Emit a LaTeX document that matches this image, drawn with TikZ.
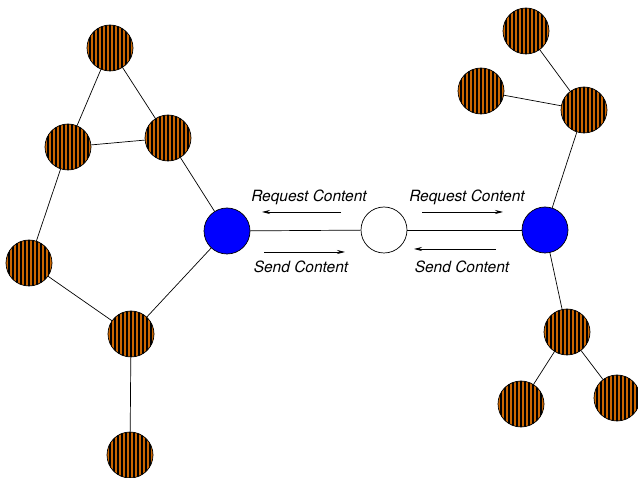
\documentclass[tikz,border=0pt]{standalone}
\usepackage{fontspec}
\setmainfont{TeX Gyre Heros}
\usetikzlibrary{arrows.meta}
\definecolor{peer}{RGB}{204,102,0}
\definecolor{super}{RGB}{0,0,255}
\tikzset{
  node base/.style={circle, draw=black, line width=0.7pt, minimum size=46pt, inner sep=0pt},
  striped/.style={node base, fill=peer,
    path picture={
      \foreach \k in {-6,...,6}{
        \draw[black, line width=1.5pt]
          ([xshift=\k*4pt]path picture bounding box.north) --
          ([xshift=\k*4pt]path picture bounding box.south);
      }
    }},
  hub/.style={node base, fill=super},
  relay/.style={node base, fill=white},
  link/.style={draw=black, line width=0.7pt},
  flow/.style={draw=black, line width=0.7pt, -{Stealth[length=8pt,width=4pt]}},
  caption/.style={font=\fontsize{15.5pt}{18pt}\selectfont\itshape, inner sep=0pt}
}
\begin{document}
\begin{tikzpicture}[x=1pt, y=-1pt]
  \useasboundingbox (0,0) rectangle (638,478);

  % left cluster
  \node[striped] (lt)  at (110,48)  {};
  \node[striped] (ll1) at (68,147)  {};
  \node[striped] (lr1) at (168,138) {};
  \node[striped] (ll2) at (29,263)  {};
  \node[striped] (lm)  at (131,334) {};
  \node[striped] (lb)  at (130,455) {};
  \node[hub]     (hl)  at (227,231) {};

  % relay in the middle
  \node[relay]   (mid) at (384,230) {};

  % right cluster
  \node[hub]     (hr)  at (545,230) {};
  \node[striped] (rt)  at (526,31)  {};
  \node[striped] (rl)  at (481,91)  {};
  \node[striped] (rm)  at (584,110) {};
  \node[striped] (rd)  at (567,332) {};
  \node[striped] (rbl) at (521,404) {};
  \node[striped] (rbr) at (617,398) {};

  % links
  \draw[link] (lt) -- (ll1);
  \draw[link] (lt) -- (lr1);
  \draw[link] (ll1) -- (lr1);
  \draw[link] (lr1) -- (hl);
  \draw[link] (ll1) -- (ll2);
  \draw[link] (ll2) -- (lm);
  \draw[link] (lm) -- (hl);
  \draw[link] (lm) -- (lb);
  \draw[link] (hl) -- (mid);
  \draw[link] (mid) -- (hr);
  \draw[link] (hr) -- (rm);
  \draw[link] (rm) -- (rt);
  \draw[link] (rm) -- (rl);
  \draw[link] (hr) -- (rd);
  \draw[link] (rd) -- (rbl);
  \draw[link] (rd) -- (rbr);

  % message flows
  \coordinate (a1s) at (341,212); \coordinate (a1e) at (262,212);
  \coordinate (a2s) at (264,252); \coordinate (a2e) at (345,252);
  \coordinate (a3s) at (422,212); \coordinate (a3e) at (503,212);
  \coordinate (a4s) at (496,249); \coordinate (a4e) at (414,249);
  \draw[flow] (a1s) -- (a1e);
  \draw[flow] (a2s) -- (a2e);
  \draw[flow] (a3s) -- (a3e);
  \draw[flow] (a4s) -- (a4e);

  \node[caption] (t1) at (309,197) {Request Content};
  \node[caption] (t2) at (301,267) {Send Content};
  \node[caption] (t3) at (467,197) {Request Content};
  \node[caption] (t4) at (462,267) {Send Content};
\end{tikzpicture}
\end{document}
